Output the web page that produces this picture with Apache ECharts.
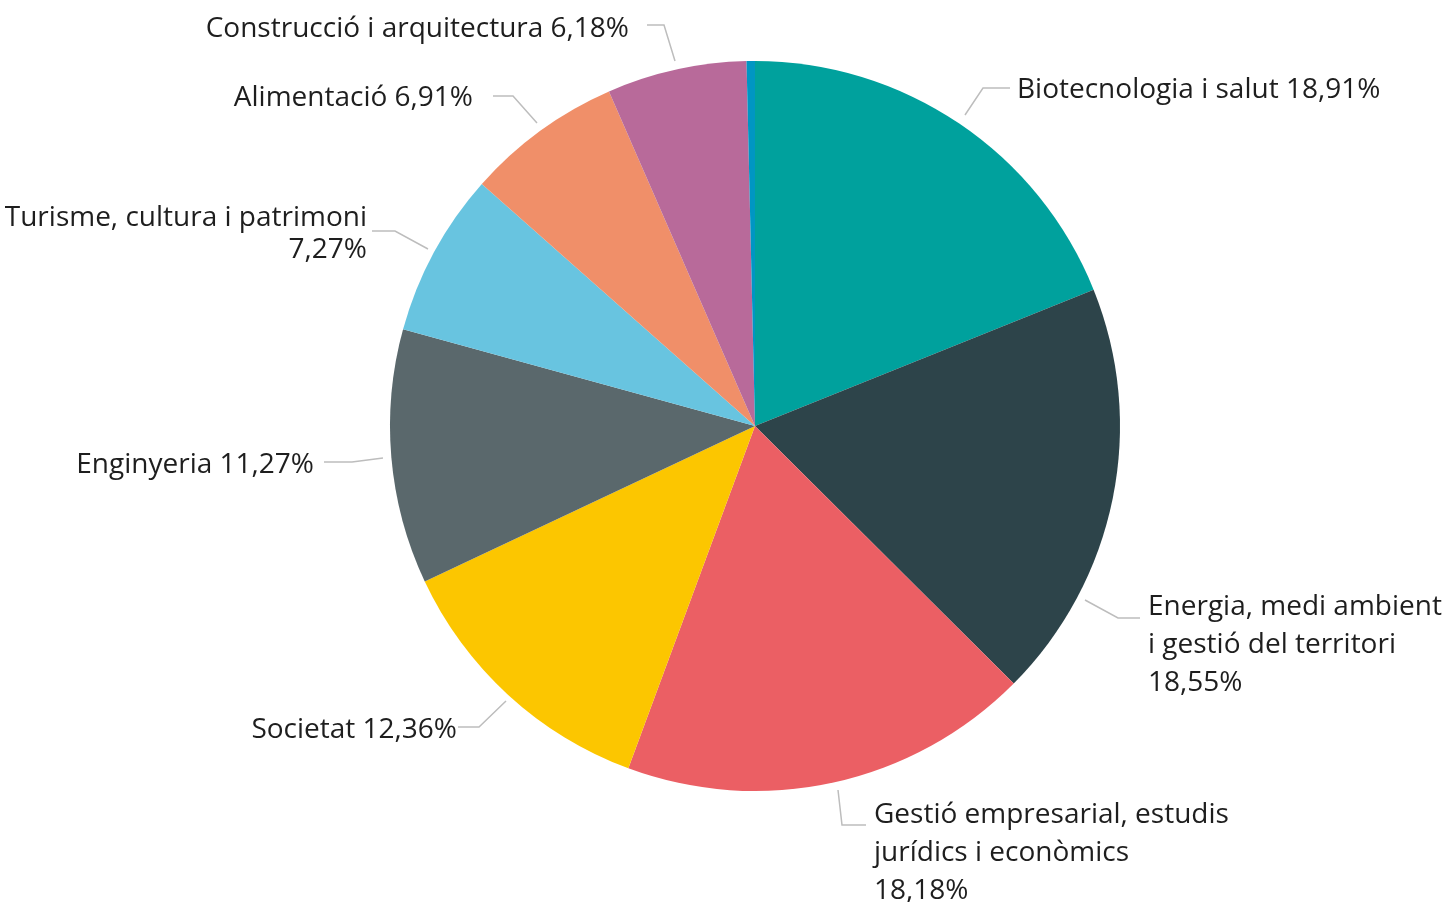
<!DOCTYPE html>
<html>
<head>
<meta charset="utf-8">
<script src="https://cdn.jsdelivr.net/npm/echarts@6/dist/echarts.min.js"></script>
<style>
  html, body { margin: 0; padding: 0; background: #fff; }
  #chart { width: 1443px; height: 902px; }
</style>
</head>
<body>
<div id="chart"></div>
<script>
// dades del gràfic (ordre horari des de dalt)
const categories = [
  'Biotecnologia i salut',
  'Energia, medi ambient\ni gestió del territori',
  'Gestió empresarial, estudis\njurídics i econòmics',
  'Societat',
  'Enginyeria',
  'Turisme, cultura i patrimoni',
  'Alimentació',
  'Construcció i arquitectura',
  'Altres'
]
const values = [18.91, 18.55, 18.18, 12.36, 11.27, 7.27, 6.91, 6.18, 0.37]
// el percentatge va a sota del nom?
const newLine = [false, true, true, false, false, true, false, false, false]
const colors = ['#00A19D', '#2D444A', '#EB5F64', '#FCC600', '#5A686C', '#68C4E0', '#F08F69', '#B86A9A', '#0096C3']

// col·locació de les etiquetes: [x text, y centre, alineació, punts de la línia guia]
const labelPos = [
  [1017, 90, 'left', [[965, 115], [983, 88], [1010, 88]]],
  [1148, 645, 'left', [[1085, 600], [1118, 618], [1140, 618]]],
  [874, 853, 'left', [[838, 790], [842, 825], [866, 825]]],
  [457, 730, 'right', [[506, 701], [479, 727], [458, 727]]],
  [314, 465, 'right', [[383, 458], [352, 462], [324, 462]]],
  [367, 234, 'right', [[428, 249], [395, 231], [372, 231]]],
  [473, 98, 'right', [[537, 123], [513, 96], [493, 96]]],
  [629, 29, 'right', [[675, 61], [664, 25], [647, 25]]]
]

const chart = echarts.init(document.getElementById('chart'))

const fmt = (v) => v.toFixed(2).replace('.', ',') + '%'

const option = {
  animation: false,
  series: [
    {
      type: 'pie',
      center: [755, 426],
      radius: 365,
      startAngle: 90,
      clockwise: true,
      avoidLabelOverlap: false,
      itemStyle: { borderWidth: 0 },
      label: {
        show: true,
        position: 'outside',
        fontFamily: 'Open Sans',
        fontSize: 28,
        lineHeight: 38,
        color: '#1E1E1E',
        overflow: 'none',
        formatter: (p) => p.name + (newLine[p.dataIndex] ? '\n' : ' ') + fmt(p.value)
      },
      labelLine: {
        show: true,
        length: 30,
        length2: 24,
        lineStyle: { color: '#BDBDBD', width: 1.5 }
      },
      labelLayout: (params) => {
        const lp = labelPos[params.dataIndex]
        if (!lp) return {}
        return {
          x: lp[0],
          y: lp[1],
          align: lp[2],
          verticalAlign: 'middle',
          labelLinePoints: lp[3]
        }
      },
      data: categories.map((name, i) => ({
        name: name,
        value: values[i],
        itemStyle: { color: colors[i] },
        label: i === 5 ? { lineHeight: 32 } : { show: i < 8 },
        labelLine: { show: i < 8 }
      }))
    }
  ]
}

chart.setOption(option)
</script>
</body>
</html>
